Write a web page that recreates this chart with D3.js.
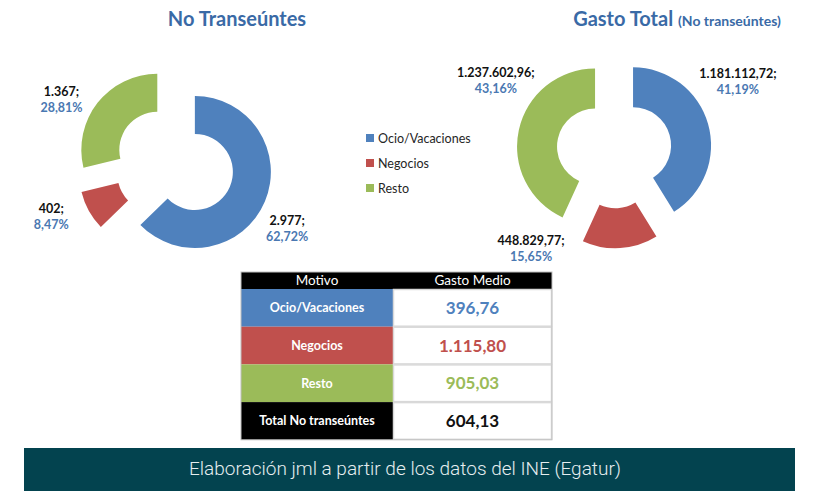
<!DOCTYPE html>
<html>
<head>
<meta charset="utf-8">
<script src="https://cdn.jsdelivr.net/npm/d3@7/dist/d3.min.js"></script>
<style>
  body { margin: 0; background: #fff; }
  svg { display: block; font-family: Lato, "Open Sans", sans-serif; }
</style>
</head>
<body>
<div id="chart"></div>
<script>
// datos Egatur - no transeuntes
var categories = ["Ocio/Vacaciones", "Negocios", "Resto"];
var viajeros = [2977, 402, 1367];
var viajerosPct = ["62,72%", "8,47%", "28,81%"];
var gastoTotal = [1181112.72, 448829.77, 1237602.96];
var gastoTotalPct = ["41,19%", "15,65%", "43,16%"];
var gastoMedio = [396.76, 1115.80, 905.03];
var totalLabel = "Total No transeúntes";
var gastoMedioTotal = 604.13;

var colors = ["#4f81bd", "#c0504d", "#9bbb59"];
var titleColor = "#3a6aa6";
var pctColor = "#4a78b2";

var es = d3.formatLocale({ decimal: ",", thousands: ".", grouping: [3], currency: ["", "€"] });
var fmtInt = es.format(",d");
var fmt2 = es.format(",.2f");

var width = 819, height = 491;

var svg = d3.select("#chart").append("svg")
  .attr("width", width)
  .attr("height", height);

svg.append("rect").attr("width", width).attr("height", height).attr("fill", "#fff");

// one donut per chart, slices pulled out along their middle angle
function donut(cfg) {
  var pie = d3.pie().sort(null).value(function (d) { return d; });
  var arcs = pie(cfg.values);
  var arc = d3.arc().innerRadius(cfg.inner).outerRadius(cfg.outer);

  var g = svg.append("g").attr("transform", "translate(" + cfg.cx + "," + cfg.cy + ")");

  g.selectAll("path")
    .data(arcs)
    .enter()
    .append("path")
    .attr("d", arc)
    .attr("fill", function (d, i) { return colors[i]; })
    .attr("transform", function (d) {
      var a = (d.startAngle + d.endAngle) / 2;
      return "translate(" + (Math.sin(a) * cfg.explode) + "," + (-Math.cos(a) * cfg.explode) + ")";
    });

  var labels = g.selectAll("g.lbl")
    .data(arcs)
    .enter()
    .append("g")
    .attr("class", "lbl")
    .attr("transform", function (d, i) {
      var a = cfg.labelAt[i][0] * Math.PI / 180, r = cfg.labelAt[i][1];
      return "translate(" + (Math.sin(a) * r) + "," + (-Math.cos(a) * r) + ")";
    });

  labels.append("text")
    .attr("text-anchor", "middle")
    .attr("y", -3)
    .attr("font-size", 12.5)
    .attr("font-weight", "bold")
    .attr("fill", "#111")
    .text(function (d) { return cfg.fmt(d.data) + ";"; });

  labels.append("text")
    .attr("text-anchor", "middle")
    .attr("y", 13)
    .attr("font-size", 12.5)
    .attr("font-weight", "bold")
    .attr("fill", pctColor)
    .text(function (d, i) { return cfg.pct[i]; });
}

donut({
  values: viajeros, pct: viajerosPct, fmt: fmtInt,
  cx: 174.6, cy: 163.4, inner: 38, outer: 76, explode: 22,
  labelAt: [[120, 130], [247, 134], [299.5, 130]]
});

donut({
  values: gastoTotal, pct: gastoTotalPct, fmt: fmt2,
  cx: 614.2, cy: 150.7, inner: 38, outer: 78, explode: 19.6,
  labelAt: [[60.6, 142], [220.5, 128], [300.9, 138]]
});

// titles
svg.append("text")
  .attr("x", 237).attr("y", 26)
  .attr("text-anchor", "middle")
  .attr("font-size", 20).attr("font-weight", "bold")
  .attr("fill", titleColor)
  .text("No Transeúntes");

var t2 = svg.append("text")
  .attr("x", 677).attr("y", 26)
  .attr("text-anchor", "middle")
  .attr("font-weight", "bold")
  .attr("fill", titleColor);
t2.append("tspan").attr("font-size", 20).text("Gasto Total ");
t2.append("tspan").attr("font-size", 14).text("(No transeúntes)");

// legend
var legend = svg.append("g").attr("transform", "translate(366,138)");
var li = legend.selectAll("g")
  .data(categories)
  .enter()
  .append("g")
  .attr("transform", function (d, i) { return "translate(0," + (i * 25) + ")"; });
li.append("rect")
  .attr("x", 0).attr("y", -4).attr("width", 8).attr("height", 8)
  .attr("fill", function (d, i) { return colors[i]; });
li.append("text")
  .attr("x", 12).attr("y", 4.5)
  .attr("font-size", 12.5)
  .attr("fill", "#262626")
  .text(function (d) { return d; });

// table gasto medio
var tx = 241, tw1 = 152, tw2 = 159, ty = 272, th = 17, rh = 37.7;
var rows = categories.map(function (c, i) { return { name: c, value: gastoMedio[i], fill: colors[i] }; });
rows.push({ name: totalLabel, value: gastoMedioTotal, fill: "#000" });

var table = svg.append("g");
table.append("rect")
  .attr("x", tx).attr("y", ty).attr("width", tw1 + tw2).attr("height", th)
  .attr("fill", "#000");
table.append("text")
  .attr("x", tx + tw1 / 2).attr("y", ty + 13)
  .attr("text-anchor", "middle").attr("font-size", 13.5).attr("fill", "#fff")
  .text("Motivo");
table.append("text")
  .attr("x", tx + tw1 + tw2 / 2).attr("y", ty + 13)
  .attr("text-anchor", "middle").attr("font-size", 13.5).attr("fill", "#fff")
  .text("Gasto Medio");

var row = table.selectAll("g.row")
  .data(rows)
  .enter()
  .append("g")
  .attr("class", "row")
  .attr("transform", function (d, i) { return "translate(" + tx + "," + (ty + th + i * rh) + ")"; });

row.append("rect")
  .attr("width", tw1).attr("height", rh)
  .attr("fill", function (d) { return d.fill; });
row.append("rect")
  .attr("x", tw1 + 0.5).attr("y", 0.5).attr("width", tw2 - 1).attr("height", rh - 1)
  .attr("fill", "#fff").attr("stroke", "#d9d9d9").attr("stroke-width", 1.5);
row.append("text")
  .attr("x", tw1 / 2).attr("y", rh / 2 + 4.5)
  .attr("text-anchor", "middle").attr("font-size", 12.5).attr("font-weight", "bold")
  .attr("fill", "#fff")
  .text(function (d) { return d.name; });
row.append("text")
  .attr("x", tw1 + tw2 / 2).attr("y", rh / 2 + 6)
  .attr("text-anchor", "middle").attr("font-size", 17).attr("font-weight", "bold")
  .attr("fill", function (d) { return d.fill === "#000" ? "#111" : d.fill; })
  .text(function (d) { return fmt2(d.value); });

table.append("rect")
  .attr("x", tx).attr("y", ty).attr("width", tw1 + tw2).attr("height", th + rows.length * rh)
  .attr("fill", "none").attr("stroke", "#bfbfbf").attr("stroke-width", 1);

// pie de fuente
svg.append("rect")
  .attr("x", 24).attr("y", 448).attr("width", 771).attr("height", 43)
  .attr("fill", "#03434f");
svg.append("text")
  .attr("x", 405).attr("y", 475)
  .attr("text-anchor", "middle")
  .attr("font-family", "Roboto")
  .attr("font-weight", 300)
  .attr("font-size", 19)
  .attr("fill", "#e6eef0")
  .text("Elaboración jml a partir de los datos del INE (Egatur)");
</script>
</body>
</html>
